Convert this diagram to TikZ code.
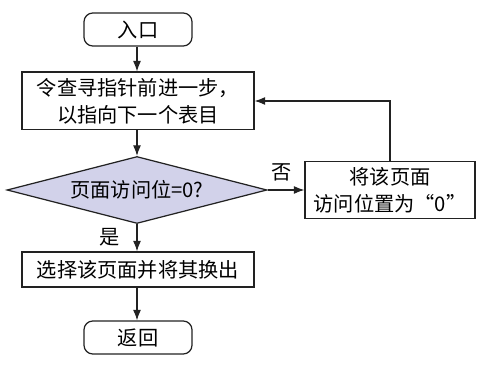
\documentclass[tikz,border=0pt]{standalone}
\usepackage{fontspec}
\newfontfamily\cjk{Noto Sans CJK SC}
\usetikzlibrary{arrows.meta, shapes.geometric}
\definecolor{lilac}{HTML}{D2D2EA}
\definecolor{ink}{HTML}{222222}

\begin{document}
\begin{tikzpicture}[
    line width=0.7pt, draw=ink,
    term/.style={draw=ink, rounded corners=5pt, minimum width=2.16cm,
                 minimum height=0.66cm, font=\cjk\fontsize{11.5}{15.5}\selectfont},
    proc/.style={draw=ink, minimum width=4.64cm, align=center,
                 font=\cjk\fontsize{11.5}{15.5}\selectfont},
    flow/.style={-{Latex[length=6pt,width=4.5pt]}, ink, line width=0.6pt}
  ]
  \fill[white] (0,0) rectangle (9.98,7.3);
  % Nodes
  \node[term] (entry) at (2.76,6.71) {入口};
  \node[proc, minimum height=1.12cm] (step) at (2.76,5.28)
        {令查寻指针前进一步，\\以指向下一个表目};
  \node[draw=ink, fill=lilac, diamond, aspect=3.9, inner sep=0pt,
        minimum width=5.2cm, minimum height=1.34cm,
        font=\cjk\fontsize{11.5}{15.5}\selectfont] (test) at (2.74,3.5)
        {页面访问位=0?};
  \node[proc, minimum width=3.4cm, minimum height=1.12cm] (reset) at (7.8,3.5)
        {将该页面\\访问位置为“0”};
  \node[proc, minimum height=0.7cm] (swap) at (2.76,1.91)
        {选择该页面并将其换出};
  \node[term] (exit) at (2.76,0.55) {返回};
  % Labels
  \node[font=\cjk\fontsize{11.5}{13}\selectfont] (no) at (5.64,3.86) {否};
  \node[font=\cjk\fontsize{11.5}{13}\selectfont] (yes) at (2.2,2.56) {是};
  % Arrows
  \draw[flow] (entry.south -| test.north) -- (step.north -| test.north);
  \draw[flow] (step.south -| test.north) -- (test.north);
  \draw[flow] (test.east) -- (reset.west);
  \draw[flow] (reset.north) |- (step.east);
  \draw[flow] (test.south) -- (swap.north -| test.south);
  \draw[flow] (swap.south -| test.south) -- (exit.north -| test.south);
\end{tikzpicture}
\end{document}
